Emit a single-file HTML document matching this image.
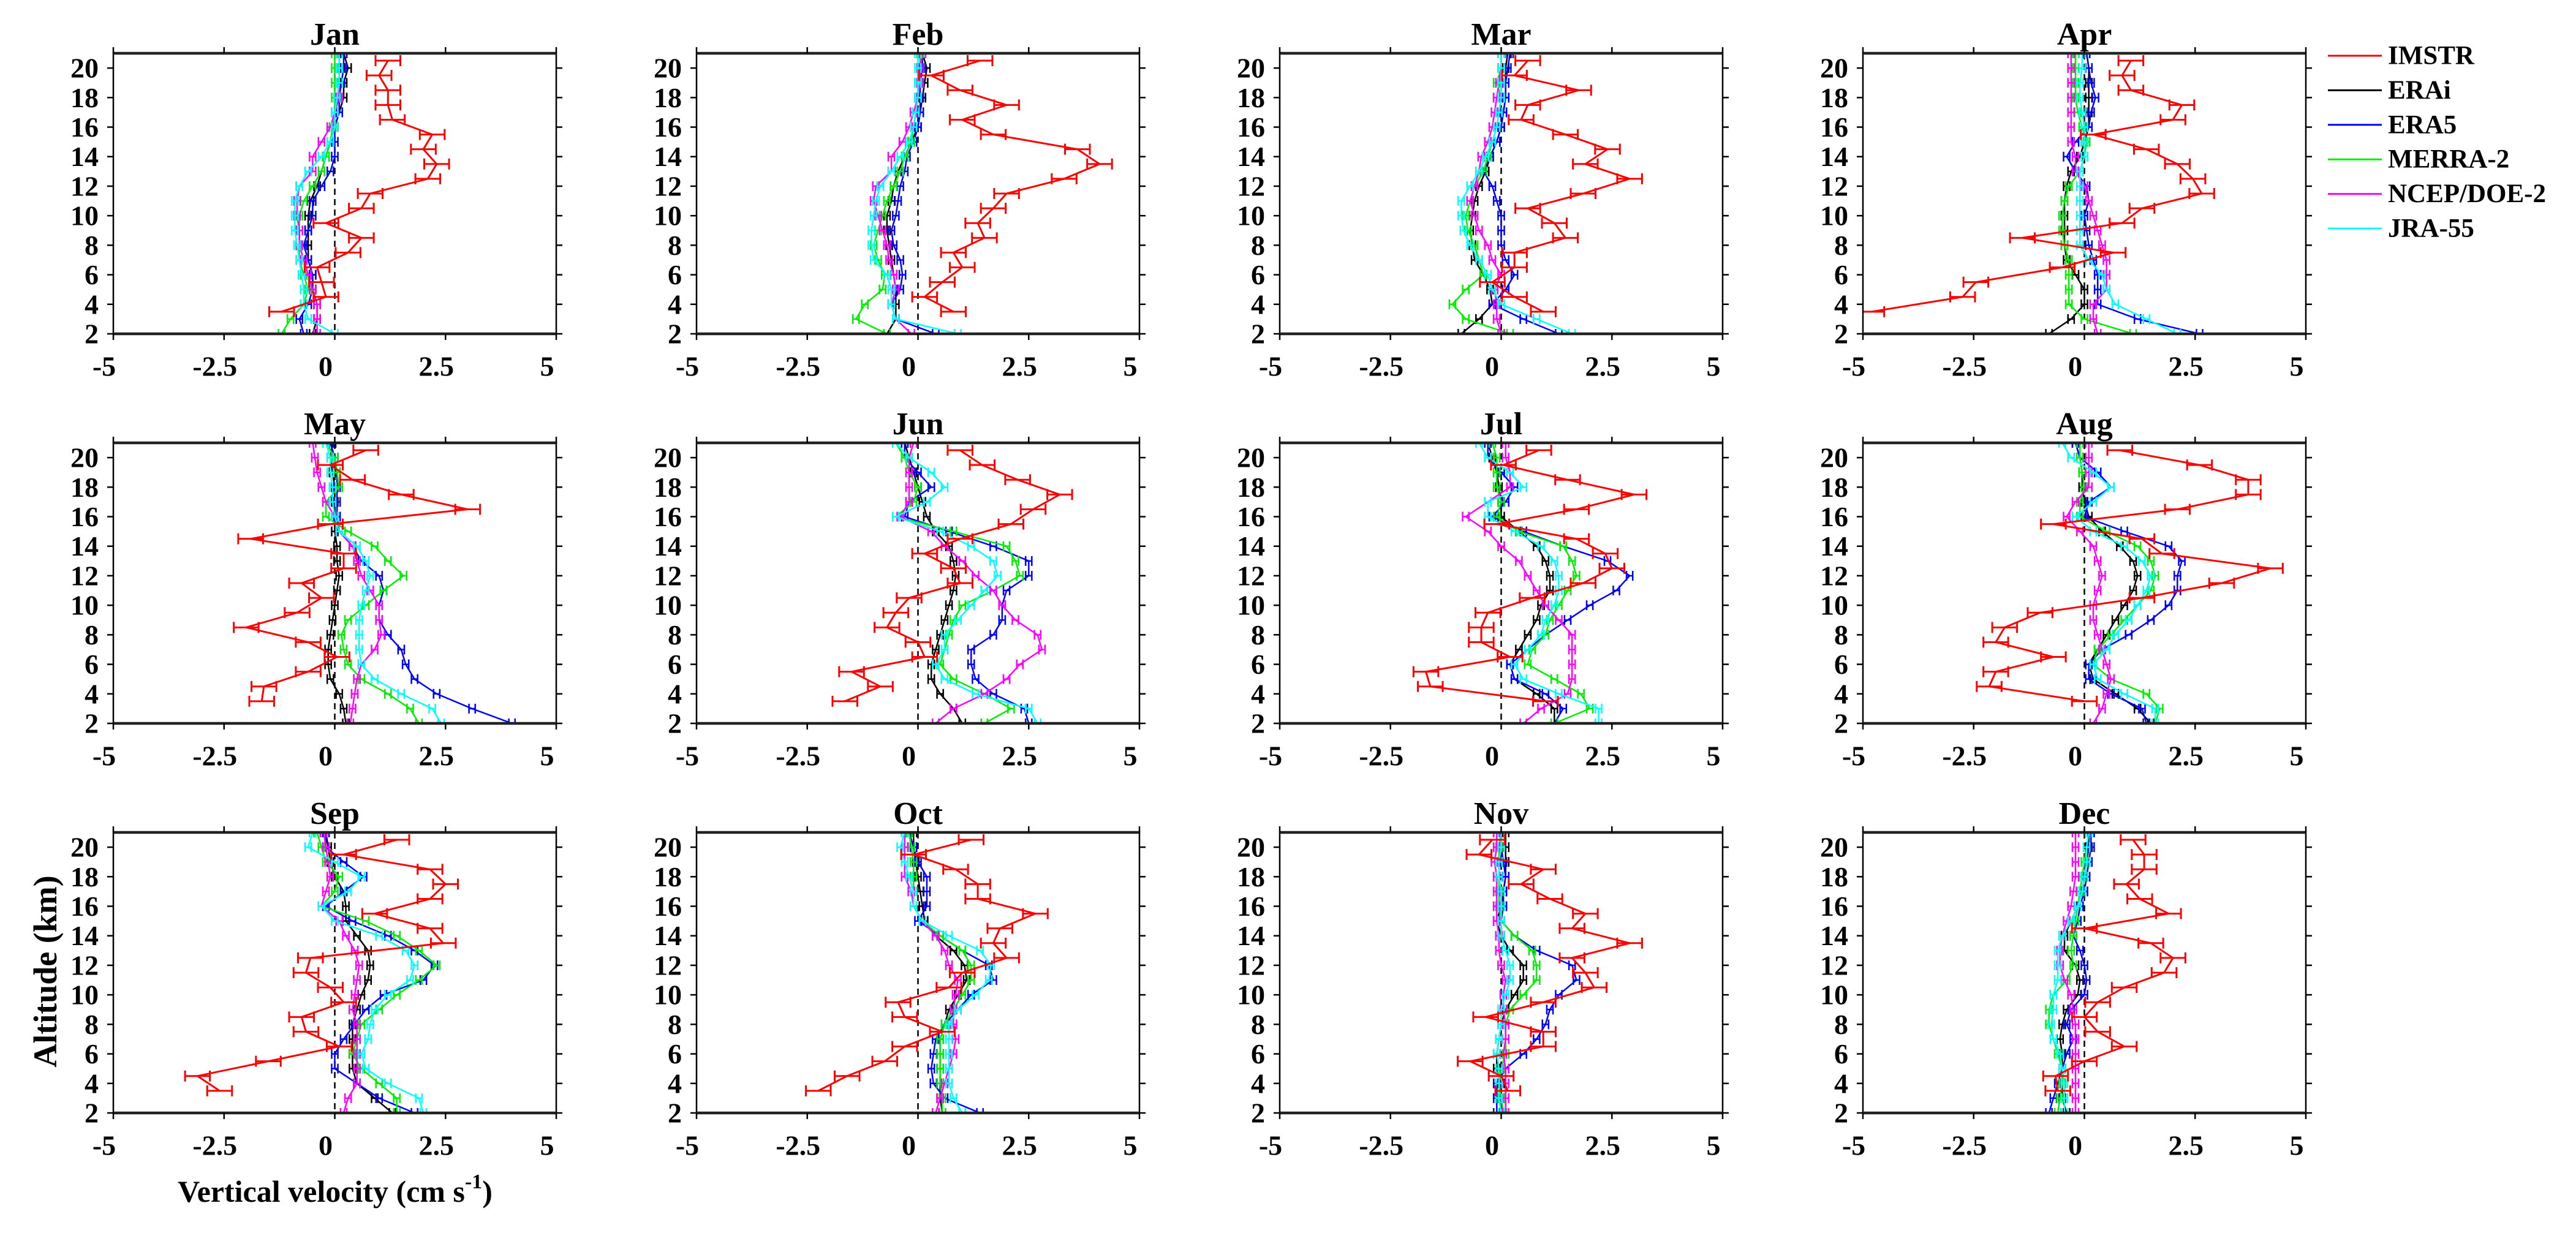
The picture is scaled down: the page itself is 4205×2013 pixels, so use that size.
<!DOCTYPE html>
<html><head><meta charset="utf-8"><style>
html,body{margin:0;padding:0;background:#fff}
svg{display:block;font-family:"Liberation Serif",serif;font-weight:bold}
</style></head><body>
<svg id="chart" width="4205" height="2013" viewBox="0 0 4205 2013" xmlns="http://www.w3.org/2000/svg"></svg>
<script>
const months=["Jan","Feb","Mar","Apr","May","Jun","Jul","Aug","Sep","Oct","Nov","Dec"];
const seriesNames=["IMSTR","ERAi","ERA5","MERRA-2","NCEP/DOE-2","JRA-55"];
const seriesColors=["#ff0000","#000000","#0000ff","#00ee00","#ff00ff","#00ffff"];
const imstrAlt=[3.5,4.5,5.5,6.5,7.5,8.5,9.5,10.5,11.5,12.5,13.5,14.5,15.5,16.5,17.5,18.5,19.5,20.5];
const reanAlt=[2,3,4,5,6,7,8,9,10,11,12,13,14,15,16,17,18,19,20,21];
const xTicks=[-5,-2.5,0,2.5,5];
const xTickLabels=["-5","-2.5","0","2.5","5"];
const yTicks=[2,4,6,8,10,12,14,16,18,20];
const imstr=[
[-1.2,-0.2,-0.3,-0.4,0.3,0.6,-0.2,0.6,0.8,2.1,2.3,2.0,2.2,1.3,1.2,1.2,1.0,1.2],
[0.8,0.15,0.55,1.0,0.8,1.5,1.35,1.7,2.0,3.3,4.1,3.6,1.7,1.0,2.0,0.95,0.3,1.4],
[0.95,0.3,-0.2,0.3,0.3,1.45,1.2,0.6,1.85,2.9,1.9,2.4,1.45,0.45,0.6,1.75,0.3,0.6],
[-4.8,-2.75,-2.45,-0.5,0.65,-1.4,0.85,1.3,2.65,2.45,2.1,1.4,0.2,2.0,2.2,1.05,0.85,1.05],
[-1.65,-1.6,-0.6,0.05,-0.6,-2.0,-0.85,-0.3,-0.75,0.2,0.2,-1.9,-0.1,3.0,1.5,0.4,-0.1,0.7],
[-1.65,-0.85,-1.5,0.15,0,-0.7,-0.5,-0.2,0.95,0.8,0.15,0.95,2.1,2.6,3.2,2.25,1.45,0.95],
[1.0,-1.6,-1.7,0.2,-0.45,-0.45,-0.3,0.7,1.85,2.5,2.35,1.7,-0.1,1.7,3.0,1.5,0.05,0.85],
[0,-2.15,-2.0,-0.7,-2.0,-1.8,-1.0,1.3,3.1,4.2,1.75,1.3,-0.7,2.1,3.7,3.7,2.6,0.8],
[-2.6,-3.1,-1.5,0.1,-0.65,-0.75,0.2,-0.1,-0.65,-0.55,2.45,2.15,0.9,2.15,2.5,2.15,0.2,1.4],
[-2.25,-1.6,-0.75,-0.3,0.55,-0.3,-0.45,0.7,1.0,2.0,1.7,1.85,2.65,1.35,1.35,0.85,-0.1,1.2],
[0.15,0,-0.7,0.95,0.95,-0.35,0.95,2.1,1.9,1.6,2.9,1.6,1.9,1.1,0.45,0.95,-0.5,-0.2],
[-0.6,-0.65,0,0.9,0.3,0,0.3,0.9,1.8,2.0,1.5,0,1.9,1.25,0.95,1.35,1.35,1.1]];
const erai=[
[-0.5,-0.4,-0.4,-0.5,-0.5,-0.6,-0.6,-0.6,-0.6,-0.55,-0.4,-0.3,-0.2,-0.1,0,0.1,0.2,0.2,0.3,0.2],
[-0.7,-0.5,-0.5,-0.5,-0.55,-0.6,-0.65,-0.7,-0.7,-0.6,-0.55,-0.45,-0.3,-0.15,0,0.05,0.1,0.15,0.2,0.1],
[-0.9,-0.5,-0.2,-0.25,-0.4,-0.6,-0.65,-0.7,-0.65,-0.6,-0.5,-0.35,-0.25,-0.1,0,0.05,0.1,0.1,0.1,0.15],
[-0.8,-0.3,0,0,-0.2,-0.4,-0.45,-0.45,-0.45,-0.45,-0.4,-0.3,-0.1,0,0.1,0.1,0.1,0.1,0.1,0.05],
[0.25,0.2,0.1,-0.1,-0.15,-0.15,-0.1,-0.05,0,0.05,0.1,0.05,0.05,0,0,0,0,-0.05,-0.1,-0.05],
[1.0,0.8,0.5,0.3,0.3,0.4,0.5,0.6,0.7,0.8,0.85,0.8,0.7,0.4,0.2,0.1,0,-0.1,-0.2,-0.3],
[1.2,1.2,0.8,0.3,0.2,0.4,0.6,0.8,0.9,1.1,1.1,1.0,0.8,0.4,0,0,-0.05,-0.1,-0.2,-0.3],
[1.5,1.2,0.7,0.2,0.1,0.3,0.5,0.7,0.9,1.1,1.2,1.1,0.8,0.4,0.1,0,-0.05,-0.05,-0.1,-0.2],
[1.3,0.9,0.5,0.4,0.4,0.4,0.4,0.5,0.6,0.75,0.8,0.75,0.5,0.25,0.25,0.2,0,-0.1,-0.15,-0.2],
[0.55,0.5,0.5,0.5,0.5,0.5,0.6,0.7,0.9,1.1,1.05,0.8,0.4,0.15,0.1,0.05,0,-0.05,-0.1,-0.1],
[0.05,0,0,-0.1,-0.1,-0.05,0,0.1,0.3,0.5,0.5,0.2,0,-0.1,0,0.05,0.1,0.1,0.1,0.1],
[-0.4,-0.5,-0.5,-0.5,-0.5,-0.55,-0.5,-0.4,-0.15,-0.1,-0.2,-0.45,-0.45,-0.3,-0.15,-0.05,0,0.05,0.1,0.1]];
const era5=[
[-0.7,-0.8,-0.6,-0.5,-0.5,-0.6,-0.7,-0.6,-0.5,-0.5,-0.3,-0.1,0,0,0,0.1,0.1,0.15,0.2,0.2],
[0.4,-0.5,-0.6,-0.4,-0.35,-0.4,-0.55,-0.6,-0.5,-0.45,-0.4,-0.3,-0.25,-0.1,0,0.05,0.05,0.05,0.1,0.1],
[1.3,0.5,-0.2,0.1,0.3,0.1,0,0,0,-0.1,-0.2,-0.4,-0.25,-0.1,0,0.05,0.1,0.1,0.15,0.2],
[2.6,1.2,0.3,0.3,0.3,0.2,0.1,0.05,0,0.1,0.05,-0.2,-0.4,-0.2,0.1,0.15,0.25,0.15,0.1,0.05],
[4.0,3.1,2.3,1.8,1.6,1.5,1.2,1.0,1.0,1.1,1.0,0.6,0.4,0.1,0.05,0.05,0.05,0.05,0,-0.1],
[2.5,2.4,1.7,1.3,1.2,1.2,1.7,1.9,1.9,2.0,2.5,2.5,1.7,0.7,-0.3,-0.2,0.3,0,-0.3,-0.3],
[1.2,1.4,1.0,0.3,0.2,0.6,1.0,1.5,2.0,2.6,2.9,2.4,1.4,0.5,-0.2,0.1,0.3,0,-0.3,-0.3],
[1.4,1.3,0.6,0.1,0.1,0.4,1.0,1.5,1.9,2.1,2.1,2.2,1.9,0.9,0,0.1,0.6,0.3,-0.1,-0.2],
[1.8,1.0,0.5,0,0,0.2,0.45,0.7,1.1,2.0,2.25,1.8,1.2,0.4,-0.2,0.2,0.65,0.2,-0.2,-0.2],
[1.4,0.6,0.35,0.3,0.35,0.4,0.6,0.9,1.2,1.7,1.6,1.0,0.5,0,0.2,0.2,0.2,0,-0.1,-0.2],
[-0.1,-0.1,-0.1,0.1,0.5,0.8,1.0,1.1,1.3,1.7,1.6,0.8,0.3,0,0.05,0.05,0.1,0.05,0,0],
[-0.8,-0.7,-0.6,-0.5,-0.4,-0.25,-0.4,-0.3,0,0.05,0,-0.1,-0.25,-0.15,-0.1,0,0.05,0.1,0.15,0.15]];
const merra=[
[-1.2,-1.0,-0.7,-0.6,-0.7,-0.8,-0.8,-0.8,-0.8,-0.7,-0.5,-0.3,-0.2,-0.1,-0.05,0,0,0,0,0],
[-0.7,-1.4,-1.2,-0.8,-0.75,-0.9,-1.0,-0.9,-0.8,-0.7,-0.55,-0.4,-0.3,-0.15,-0.1,-0.05,0,0,0.05,0.05],
[0.2,-0.8,-1.1,-0.8,-0.4,-0.5,-0.6,-0.75,-0.8,-0.7,-0.6,-0.4,-0.3,-0.2,-0.1,-0.05,0,-0.1,0,0],
[1.1,0,-0.35,-0.35,-0.35,-0.35,-0.45,-0.5,-0.5,-0.45,-0.35,-0.1,0,0.05,-0.05,-0.15,-0.2,-0.2,-0.2,-0.2],
[1.9,1.7,1.2,0.6,0.3,0.2,0.15,0.3,0.7,1.1,1.55,1.2,0.9,0.3,-0.2,-0.2,0.1,0.05,0,-0.2],
[1.5,2.1,1.5,0.8,0.5,0.6,0.7,0.8,1.0,1.7,2.3,2.2,2.0,0.8,-0.5,-0.1,0,-0.2,-0.3,-0.5],
[1.2,2.0,1.8,1.2,0.6,0.7,1.0,1.1,1.3,1.5,1.7,1.6,1.4,0.4,-0.1,0,-0.1,-0.1,-0.1,-0.2],
[1.6,1.7,1.4,0.6,0.2,0.3,0.6,0.9,1.2,1.5,1.6,1.5,1.2,0.5,-0.1,-0.1,0,-0.05,-0.1,-0.1],
[1.4,1.4,1.0,0.6,0.4,0.5,0.6,1.0,1.4,1.9,2.3,1.9,1.4,0.7,-0.3,0,0.1,-0.2,-0.3,-0.4],
[0.55,0.55,0.5,0.5,0.5,0.5,0.6,0.8,1.0,1.2,1.2,1.0,0.5,0.1,-0.1,-0.1,-0.1,-0.1,-0.15,-0.2],
[0.05,0,-0.05,0,0.1,0.1,0.1,0.2,0.5,0.8,0.8,0.7,0.3,0,-0.05,-0.05,-0.05,-0.05,-0.05,0],
[-0.6,-0.55,-0.5,-0.5,-0.6,-0.7,-0.8,-0.8,-0.7,-0.4,-0.25,-0.3,-0.25,-0.2,-0.15,-0.1,-0.05,0,0.05,0.1]];
const ncep=[
[-0.4,-0.4,-0.4,-0.5,-0.6,-0.7,-0.8,-0.8,-0.85,-0.85,-0.8,-0.5,-0.5,-0.3,-0.1,0,0.1,0.1,0.1,0.1],
[-0.15,-0.5,-0.6,-0.5,-0.55,-0.65,-0.7,-0.8,-0.9,-1.0,-0.95,-0.6,-0.6,-0.35,-0.2,-0.1,0,0.05,0.05,0.1],
[0,-0.1,-0.1,-0.15,0,-0.2,-0.3,-0.5,-0.6,-0.7,-0.6,-0.5,-0.45,-0.3,-0.2,-0.15,-0.1,-0.05,0,0],
[0.3,0.2,0.2,0.5,0.5,0.5,0.4,0.3,0.2,0.1,0,-0.2,-0.2,-0.3,-0.3,-0.3,-0.3,-0.3,-0.3,-0.3],
[0.35,0.4,0.45,0.5,0.6,0.9,1.05,1.0,1.0,0.8,0.6,0.5,0.4,0.1,0,-0.2,-0.3,-0.4,-0.45,-0.5],
[0.4,0.8,1.5,2.0,2.3,2.8,2.7,2.2,1.9,1.7,1.3,1.0,0.6,0.3,-0.4,-0.2,-0.2,-0.2,-0.2,-0.1],
[0.5,0.9,1.5,1.6,1.6,1.6,1.6,1.3,1.0,0.8,0.6,0.4,0,-0.3,-0.8,-0.3,0.2,0.2,0.1,0.1],
[0.2,0.4,0.5,0.6,0.5,0.4,0.3,0.2,0.2,0.3,0.4,0.3,0.2,-0.1,-0.4,-0.2,0.1,0.1,0.1,0.1],
[0.2,0.3,0.5,0.5,0.5,0.5,0.5,0.4,0.45,0.5,0.55,0.45,0.25,0.1,-0.3,-0.2,-0.1,-0.15,-0.2,-0.25],
[0.4,0.5,0.6,0.7,0.8,0.85,0.8,0.8,0.85,0.9,0.7,0.6,0.4,0.1,-0.1,-0.15,-0.3,-0.3,-0.3,-0.3],
[0.1,0.1,0.1,0.1,0.05,0.1,0.1,0.05,0.05,0.1,0,-0.05,-0.05,-0.1,-0.1,-0.1,-0.1,-0.15,-0.1,-0.1],
[-0.2,-0.2,-0.2,-0.2,-0.2,-0.2,-0.2,-0.25,-0.3,-0.45,-0.55,-0.55,-0.5,-0.4,-0.3,-0.25,-0.2,-0.2,-0.2,-0.2]];
const jra=[
[0,-0.6,-0.7,-0.7,-0.75,-0.8,-0.85,-0.9,-0.9,-0.9,-0.8,-0.6,-0.3,-0.1,0,0,0.05,0.1,0.1,0.1],
[0.9,-0.5,-0.6,-0.6,-0.7,-1.0,-1.05,-1.05,-1.0,-0.95,-0.85,-0.6,-0.4,-0.2,-0.1,-0.05,0,0,0,0],
[1.6,0.8,0,-0.2,-0.3,-0.5,-0.7,-0.85,-0.9,-0.9,-0.7,-0.5,-0.35,-0.2,-0.1,-0.05,0,0,0,0],
[2.1,1.4,0.7,0.5,0.4,0.1,-0.1,-0.1,-0.1,-0.1,-0.1,-0.1,0,0,0,-0.05,-0.1,-0.1,-0.05,-0.05],
[2.4,2.2,1.5,0.9,0.6,0.55,0.55,0.55,0.6,0.7,0.8,0.7,0.5,0.1,0,-0.05,-0.05,-0.1,-0.1,-0.2],
[2.7,2.5,1.3,0.6,0.4,0.6,0.6,0.9,1.2,1.5,1.8,1.7,1.2,0.5,-0.5,0.2,0.6,0.3,-0.2,-0.5],
[2.2,2.2,1.3,0.5,0.3,0.6,0.9,1.0,1.2,1.3,1.3,1.2,0.9,0.3,-0.3,-0.3,0.5,0.2,-0.3,-0.5],
[1.6,1.6,0.9,0.3,0.2,0.5,0.7,1.0,1.2,1.4,1.5,1.3,0.9,0.2,-0.2,0.2,0.6,0.2,-0.3,-0.5],
[2.0,1.9,1.2,0.7,0.6,0.75,0.8,0.9,1.2,1.7,1.8,1.6,1.0,0,-0.3,0.3,0.6,0,-0.6,-0.5],
[1.0,0.8,0.7,0.7,0.7,0.7,0.7,0.9,1.3,1.6,1.65,1.4,0.7,0.1,-0.1,-0.1,-0.2,-0.3,-0.4,-0.3],
[0,-0.05,-0.05,-0.05,-0.1,-0.05,0,0,0.1,0.2,0.2,0.1,0,0,0,0,-0.05,-0.05,0,0],
[-0.45,-0.45,-0.45,-0.5,-0.55,-0.7,-0.75,-0.7,-0.7,-0.6,-0.6,-0.6,-0.5,-0.3,-0.15,-0.05,0,0.05,0.05,0.1]];
const reanalysis=[erai,era5,merra,ncep,jra];

const NS="http://www.w3.org/2000/svg";
const svg=document.getElementById("chart");
function mk(tag,attrs,parent){const e=document.createElementNS(NS,tag);for(const k in attrs)e.setAttribute(k,attrs[k]);(parent||svg).appendChild(e);return e;}
const PW=723,PH=458,X0=185,DX=952,Y0=87,DY=636;
const XMIN=-5,XMAX=5,YMIN=2,YMAX=21;

months.forEach((m,i)=>{
  const col=i%4,row=Math.floor(i/4);
  const L=X0+col*DX,T=Y0+row*DY;
  const xs=v=>L+(v-XMIN)/(XMAX-XMIN)*PW;
  const ys=a=>T+PH-(a-YMIN)/(YMAX-YMIN)*PH;
  const g=mk("g",{});
  
  
  const clipId="clip"+i;
  const cp=mk("clipPath",{id:clipId},g);mk("rect",{x:L,y:T,width:PW,height:PH},cp);
  const t=mk("text",{x:L+PW/2,y:T-14,"text-anchor":"middle","font-size":52},g);t.textContent=m;
  
  
  // dashed zero line
  const z=mk("line",{x1:xs(0),x2:xs(0),y1:T,y2:T+PH,stroke:"#000","stroke-width":2.5,"stroke-dasharray":"10,7"},g);
  
  
  const data=g;
  // reanalysis series
  [1,2,3,4,5].forEach(s=>{
    const vals=reanalysis[s-1][i];
    const sg=mk("g",{"clip-path":"url(#"+clipId+")"},data);
    
    
    const pts=vals.map((v,k)=>xs(v).toFixed(1)+","+ys(reanAlt[k]).toFixed(1)).join(" ");
    mk("polyline",{points:pts,fill:"none",stroke:seriesColors[s],"stroke-width":2.5},sg);
    vals.forEach((v,k)=>{const y=ys(reanAlt[k]),e=0.07;
      mk("path",{d:`M${xs(v-e)},${y}H${xs(v+e)}M${xs(v-e)},${y-8}V${y+8}M${xs(v+e)},${y-8}V${y+8}`,stroke:seriesColors[s],"stroke-width":2.5,fill:"none"},sg);});
  });
  // IMSTR
  const ig=mk("g",{"clip-path":"url(#"+clipId+")"},data);
  
  
  const iv=imstr[i];
  mk("polyline",{points:iv.map((v,k)=>xs(v).toFixed(1)+","+ys(imstrAlt[k]).toFixed(1)).join(" "),fill:"none",stroke:seriesColors[0],"stroke-width":3},ig);
  iv.forEach((v,k)=>{const y=ys(imstrAlt[k]),e=0.28;
    mk("path",{d:`M${xs(v-e)},${y}H${xs(v+e)}M${xs(v-e)},${y-9}V${y+9}M${xs(v+e)},${y-9}V${y+9}`,stroke:seriesColors[0],"stroke-width":3,fill:"none"},ig);});
  // box
  mk("rect",{x:L,y:T,width:PW,height:PH,fill:"none",stroke:"#000","stroke-width":2.5},g);
  mk("line",{x1:L,x2:L+PW,y1:T,y2:T,stroke:"#222","stroke-width":4.5},g);
  mk("line",{x1:L,x2:L+PW,y1:T+PH,y2:T+PH,stroke:"#222","stroke-width":4.5},g);
  xTicks.forEach((v,k)=>{
    mk("line",{x1:xs(v),x2:xs(v),y1:T,y2:T-10,stroke:"#000","stroke-width":2.5},g);
    mk("line",{x1:xs(v),x2:xs(v),y1:T+PH,y2:T+PH+10,stroke:"#000","stroke-width":2.5},g);
    const tl=mk("text",{x:xs(v)-15,y:T+PH+53,"text-anchor":"middle","dominant-baseline":"central","font-size":46},g);
    tl.textContent=xTickLabels[k];
    
    
  });
  yTicks.forEach(v=>{
    mk("line",{x1:L,x2:L-10,y1:ys(v),y2:ys(v),stroke:"#000","stroke-width":2.5},g);
    mk("line",{x1:L+PW,x2:L+PW+10,y1:ys(v),y2:ys(v),stroke:"#000","stroke-width":2.5},g);
    const tl=mk("text",{x:L-24,y:ys(v),"text-anchor":"end","dominant-baseline":"central","font-size":46},g);
    tl.textContent=String(v);
    
    
  });
});
// axis titles
const yl=mk("text",{x:74,y:1586,"text-anchor":"middle","dominant-baseline":"central","font-size":54,transform:"rotate(-90 74 1586)"});
yl.textContent="Altitude (km)";


const xl=mk("text",{x:547,y:1962,"text-anchor":"middle","font-size":50});


xl.appendChild(document.createTextNode("Vertical velocity (cm s"));
const sup=mk("tspan",{"font-size":34,dy:-22},xl);sup.textContent="-1";
const cl=mk("tspan",{"font-size":50,dy:22},xl);cl.textContent=")";
// legend
const lg=mk("g",{});


seriesNames.forEach((n,k)=>{
  const y=91+56.4*k;
  const eg=mk("g",{},lg);
  
  
  mk("line",{x1:3800,x2:3888,y1:y,y2:y,stroke:seriesColors[k],"stroke-width":3},eg);
  const tx=mk("text",{x:3898,y:y,"dominant-baseline":"central","font-size":43},eg);tx.textContent=n;
});
</script>
</body></html>
